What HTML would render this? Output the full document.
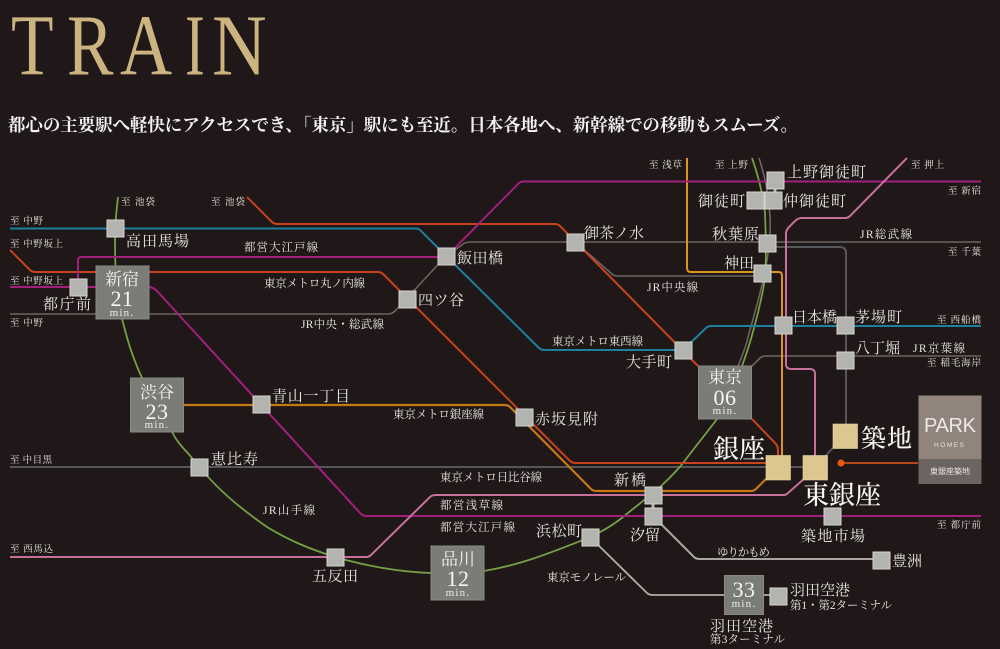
<!DOCTYPE html>
<html lang="ja"><head><meta charset="utf-8"><title>TRAIN</title>
<style>
html,body{margin:0;padding:0;background:#1f1718;width:1000px;height:649px;overflow:hidden}
svg{display:block}
text{font-family:"Liberation Serif","Noto Serif CJK SC",serif;fill:#e6e6e2}
.ti{font-size:87px;fill:#cbb47f}
.t{font-size:9.5px;fill:#c4c4c0}
.l{font-size:11.5px;fill:#c8c8c4}
.s{font-size:15px}
.b{font-size:17px;text-anchor:middle;fill:#f2f2ee}
.n{font-size:22px;text-anchor:middle;fill:#f5f5f1;letter-spacing:.5px}
.m{font-size:11px;text-anchor:middle;fill:#ecece8;letter-spacing:1.2px}
.g{font-weight:500;fill:#f8f8f4}
path{fill:none;stroke-linejoin:round}
.st{fill:#b3b3af;stroke:#d4d4d0;stroke-width:1}
.bx{fill:#7c7c77;stroke:#8a8a85;stroke-width:1}
.gd{fill:#dcc78f;stroke:#e8d8a8;stroke-width:.6}
</style></head><body>
<svg width="1000" height="649" viewBox="0 0 1000 649" xmlns="http://www.w3.org/2000/svg">
<rect width="1000" height="649" fill="#1f1718"/>
<text class="ti" transform="translate(11 74.5) scale(.8 1)" x="0" y="0">T</text>
<text class="ti" transform="translate(67 74.5) scale(.8 1)" x="0" y="0">R</text>
<text class="ti" transform="translate(120 74.5) scale(.83 1)" x="0" y="0">A</text>
<text class="ti" transform="translate(185 74.5) scale(.68 1)" x="0" y="0">I</text>
<text class="ti" transform="translate(212 74.5) scale(.87 1)" x="0" y="0">N</text>
<text x="8" y="131" textLength="790" style="font-size:17.5px;font-weight:700;fill:#f2f2f2">都心の主要駅へ軽快にアクセスでき、「東京」駅にも至近。日本各地へ、新幹線での移動もスムーズ。</text>

<g stroke-width="1.6">
<!-- JR lines grey -->
<path stroke="#6a6562" d="M759 158C768 185 771 215 770 232C769 262 760 295 748 337C746 347 742 356 738 366"/>
<path stroke="#6a6562" d="M10 314H388Q392 314 395 311L446 256L462 245Q465 242 470 242H981"/>
<path stroke="#6a6562" d="M575 242L612 274Q614 276 618 276H763"/>
<path stroke="#6a6562" d="M751 367L760 358Q762 356 766 356H981"/>
<path stroke="#55565a" stroke-width="2" d="M767 247H840Q846 247 846 253V430"/>
<path stroke="#55565a" stroke-width="2" d="M10 467H815L845 435"/>
<!-- Yamanote -->
<path stroke="#76a044" stroke-width="1.800" d="M118 197C116 215 115 225 115 240C115 270 116 300 125 330C130 350 136 365 142 378M172 432C180 447 186 450 192 458C215 488 240 508 267 527C290 541 310 549 335 557C370 567 400 572 431 573M484 571C520 565 550 553 583 540C600 533 612 526 623 517C650 495 665 485 683 463C695 447 705 435 717 419M742 366C750 345 758 315 763 290C767 270 766 240 765 213C763 195 758 175 752 158"/>
<!-- Marunouchi -->
<path stroke="#c8431d" stroke-width="2" d="M10 250L30 270Q32 272 36 272H378Q381 272 383 274L570 461Q572 463 576 463H778"/>
<path stroke="#c8431d" stroke-width="2" d="M247 197L272 222Q274 224 278 224H555Q558 224 560 226L698 366M752 419L776 444Q778 447 778 450V460"/>
<!-- Tozai -->
<path stroke="#1e7f9e" stroke-width="2" d="M10 228.500H416Q419 228.500 421 231L539 348Q541 350 545 350H683L706 328Q708 326 712 326H981"/>
<!-- Ginza -->
<path stroke="#c47a14" stroke-width="2.200" d="M184 405H505Q508 405 510 407L591 489Q593 491 597 491H751Q754 491 756 489L768 477"/>
<!-- Orange -->
<path stroke="#df9422" stroke-width="2" d="M687 158V268Q687 272 691 272H779Q782 272 782 276V460"/>
<!-- Oedo -->
<path stroke="#a0207c" stroke-width="2" d="M10 287H150Q154 288 157 291L361 514Q363 516 367 516H981"/>
<path stroke="#a0207c" stroke-width="2" d="M78 288V260Q78 257 82 257H446L518 184Q520 181.500 524 181.500H981"/>
<!-- Asakusa -->
<path stroke="#c8709c" stroke-width="2" d="M10 557H366Q369 557 371 555L430 497Q432 495 436 495H784Q786 495 788 493L805 478"/>
<path stroke="#c8709c" stroke-width="2" d="M815 460V374Q815 369 810 369H791Q786 369 786 364V234Q786 230 789 227L795 221Q798 218 802 218H845Q848 218 850 216L907 158"/>
<!-- Yurikamome & monorail -->
<path stroke="#a8a6a2" stroke-width="2" d="M653 516L694 557Q696 559 700 559H881"/>
<path stroke="#b0aeaa" stroke-width="1.800" d="M590 537L647 593Q649 595 653 595H778"/>
<path stroke="#b3b3af" stroke-width="3" d="M653 495V516M775 180V200"/>
<!-- to site -->
<path stroke="#c8501c" stroke-width="1.800" d="M841 463H918"/>
</g>
<circle cx="841" cy="463" r="3.500" fill="#ea5a0c"/>

<!-- stations -->
<g class="st">
<rect x="107" y="220" width="17" height="17"/><rect x="70" y="279" width="17" height="17"/>
<rect x="438" y="248" width="17" height="17"/><rect x="399" y="291" width="17" height="17"/>
<rect x="567" y="234" width="17" height="17"/><rect x="675" y="342" width="17" height="17"/>
<rect x="516" y="409" width="17" height="17"/><rect x="253" y="396" width="17" height="17"/>
<rect x="191" y="459" width="17" height="17"/><rect x="327" y="549" width="17" height="17"/>
<rect x="767" y="172" width="17" height="17"/><rect x="747" y="192" width="17" height="17"/>
<rect x="765" y="192" width="17" height="17"/><rect x="759" y="235" width="17" height="17"/>
<rect x="754" y="265" width="17" height="17"/><rect x="775" y="317" width="17" height="17"/>
<rect x="837" y="317" width="17" height="17"/><rect x="837" y="352" width="17" height="17"/>
<rect x="645" y="487" width="17" height="17"/><rect x="645" y="508" width="17" height="17"/>
<rect x="824" y="508" width="17" height="17"/><rect x="873" y="552" width="17" height="17"/>
<rect x="582" y="529" width="17" height="17"/><rect x="770" y="588" width="17" height="17"/>
</g>
<g class="bx">
<rect x="96" y="266" width="53" height="53"/><rect x="130.500" y="378" width="53" height="54"/>
<rect x="431" y="546" width="53" height="54"/><rect x="698.500" y="366" width="53" height="53"/>
<rect x="724.500" y="575.500" width="39" height="39"/>
</g>
<g class="gd">
<rect x="766" y="455.500" width="24.500" height="24.500"/><rect x="803" y="455.500" width="24.500" height="24.500"/>
<rect x="833" y="424" width="24.500" height="24.500"/>
</g>

<!-- PARK HOMES -->
<rect x="918.500" y="395.500" width="63" height="64" fill="#91847c"/>
<rect x="918.500" y="459" width="63" height="25" fill="#6c6461"/>
<text x="924" y="432" textLength="52" style="font-family:'Liberation Sans',sans-serif;font-size:20px;fill:#ece9e4">PARK</text>
<text x="934" y="447" textLength="30" style="font-family:'Liberation Sans',sans-serif;font-size:6.500px;fill:#e8e4de">HOMES</text>
<text x="930" y="474" textLength="40" style="font-family:'Liberation Sans','Noto Sans CJK JP',sans-serif;font-size:8px;fill:#e8e4de">東銀座築地</text>

<!-- direction labels -->
<g class="t">
<text x="121" y="205" textLength="34">至 池袋</text><text x="211" y="205" textLength="34">至 池袋</text>
<text x="10" y="224" textLength="33">至 中野</text><text x="10" y="247" textLength="53">至 中野坂上</text>
<text x="10" y="284" textLength="53">至 中野坂上</text><text x="10" y="326" textLength="33">至 中野</text>
<text x="649" y="168" textLength="33">至 浅草</text><text x="715" y="168" textLength="33">至 上野</text>
<text x="911" y="168" textLength="33">至 押上</text><text x="948" y="194" textLength="33">至 新宿</text>
<text x="948" y="255" textLength="33">至 千葉</text><text x="937" y="323" textLength="44">至 西船橋</text>
<text x="927" y="366" textLength="54">至 稲毛海岸</text><text x="937" y="528" textLength="44">至 都庁前</text>
<text x="10" y="463" textLength="42">至 中目黒</text><text x="10" y="552" textLength="43">至 西馬込</text>
</g>
<!-- line names -->
<g class="l">
<text x="244" y="251" textLength="74">都営大江戸線</text>
<text x="264" y="287" textLength="101">東京メトロ丸ノ内線</text>
<text x="301" y="328" textLength="83">JR中央・総武線</text>
<text x="647" y="291" textLength="51">JR中央線</text>
<text x="552" y="345" textLength="91">東京メトロ東西線</text>
<text x="860" y="238" textLength="52">JR総武線</text>
<text x="913" y="352" textLength="52">JR京葉線</text>
<text x="393" y="418" textLength="91">東京メトロ銀座線</text>
<text x="440" y="481" textLength="102">東京メトロ日比谷線</text>
<text x="440" y="509" textLength="63">都営浅草線</text>
<text x="440" y="531" textLength="75">都営大江戸線</text>
<text x="547" y="581" textLength="79">東京モノレール</text>
<text x="717" y="556" textLength="53">ゆりかもめ</text>
<text x="263" y="514" textLength="52">JR山手線</text>
</g>
<!-- station names -->
<g class="s">
<text x="787" y="177" textLength="79">上野御徒町</text>
<text x="698" y="206" textLength="47">御徒町</text>
<text x="783" y="206" textLength="63">仲御徒町</text>
<text x="712" y="239" textLength="47">秋葉原</text>
<text x="724" y="268" textLength="30">神田</text>
<text x="792" y="322" textLength="45">日本橋</text>
<text x="855" y="322" textLength="47">茅場町</text>
<text x="855" y="353" textLength="45">八丁堀</text>
<text x="626" y="367" textLength="46">大手町</text>
<text x="584" y="238" textLength="60">御茶ノ水</text>
<text x="457" y="263" textLength="46">飯田橋</text>
<text x="418" y="305" textLength="46">四ツ谷</text>
<text x="535" y="424" textLength="63">赤坂見附</text>
<text x="614" y="485" textLength="32">新橋</text>
<text x="630" y="540" textLength="30">汐留</text>
<text x="536" y="536" textLength="46">浜松町</text>
<text x="312" y="581" textLength="46">五反田</text>
<text x="126" y="246" textLength="63">高田馬場</text>
<text x="43" y="309" textLength="48">都庁前</text>
<text x="272" y="401" textLength="78">青山一丁目</text>
<text x="211" y="464" textLength="47">恵比寿</text>
<text x="801" y="541" textLength="64">築地市場</text>
<text x="892" y="566" textLength="30">豊洲</text>
<text x="790" y="595" textLength="60">羽田空港</text>
<text x="710" y="631" textLength="63">羽田空港</text>
</g>
<text x="790" y="609" textLength="102" style="font-size:11.500px">第1・第2ターミナル</text>
<text x="710" y="643" textLength="75" style="font-size:11.500px">第3ターミナル</text>
<!-- destination labels -->
<text class="g" x="713" y="458" textLength="52" style="font-size:26px">銀座</text>
<text class="g" x="803" y="504" textLength="78" style="font-size:26px">東銀座</text>
<text class="g" x="861" y="447" textLength="51" style="font-size:25px">築地</text>
<!-- boxes text -->
<text class="b" x="122" y="285">新宿</text><text class="n" x="122" y="306">21</text><text class="m" x="122" y="316">min.</text>
<text class="b" x="157" y="398">渋谷</text><text class="n" x="157" y="419">23</text><text class="m" x="157" y="428">min.</text>
<text class="b" x="458" y="565">品川</text><text class="n" x="458" y="586">12</text><text class="m" x="458" y="596">min.</text>
<text class="b" x="725" y="383">東京</text><text class="n" x="725" y="405">06</text><text class="m" x="725" y="414">min.</text>
<text class="n" x="744" y="597">33</text><text class="m" x="744" y="607">min.</text>
</svg>
</body></html>
